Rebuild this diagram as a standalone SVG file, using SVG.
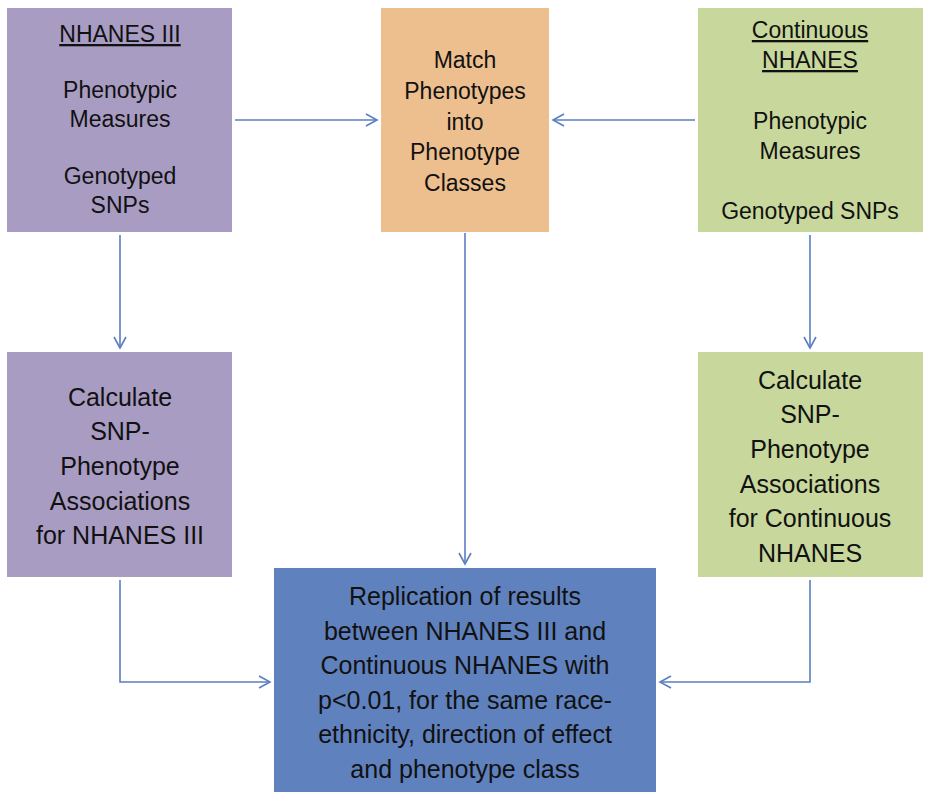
<svg xmlns="http://www.w3.org/2000/svg" width="931" height="800" viewBox="0 0 931 800">
<style>
text{font-family:"Liberation Sans",Arial,sans-serif;font-size:23px;fill:#111;text-anchor:middle}
.c{fill:none;stroke:#5b7fbf;stroke-width:1.6}
</style>
<defs><marker id="a" markerWidth="14" markerHeight="14" refX="12" refY="7" orient="auto" markerUnits="userSpaceOnUse"><path d="M1,1 L12,7 L1,13" fill="none" stroke="#5b7fbf" stroke-width="1.6"/></marker></defs>
<rect width="931" height="800" fill="#fff"/>
<g id="nh3"><rect x="7" y="8" width="225" height="224" fill="#a99cc3"/>
<text x="120" y="42" text-decoration="underline">NHANES III</text>
<text x="120" y="98">Phenotypic</text><text x="120" y="127">Measures</text>
<text x="120" y="184">Genotyped</text><text x="120" y="213">SNPs</text></g>
<g id="match"><rect x="381" y="8" width="168" height="224" fill="#edbf8e"/>
<text x="465" y="68">Match</text><text x="465" y="99">Phenotypes</text><text x="465" y="130">into</text><text x="465" y="160">Phenotype</text><text x="465" y="191">Classes</text></g>
<g id="cont"><rect x="698" y="8" width="225" height="224" fill="#c8d89c"/>
<text x="810" y="38" text-decoration="underline">Continuous</text><text x="810" y="68" text-decoration="underline">NHANES</text>
<text x="810" y="129">Phenotypic</text><text x="810" y="159">Measures</text>
<text x="810" y="219">Genotyped SNPs</text></g>
<g id="calc3"><rect x="7" y="352" width="225" height="225" fill="#a99cc3" style="font-size:25px"/>
<text x="120" y="406" style="font-size:25px">Calculate</text><text x="120" y="440" style="font-size:25px">SNP-</text><text x="120" y="475" style="font-size:25px">Phenotype</text><text x="120" y="510" style="font-size:25px">Associations</text><text x="120" y="544" style="font-size:25px">for NHANES III</text></g>
<g id="calcc"><rect x="698" y="352" width="225" height="225" fill="#c8d89c"/>
<text x="810" y="389" style="font-size:25px">Calculate</text><text x="810" y="423" style="font-size:25px">SNP-</text><text x="810" y="458" style="font-size:25px">Phenotype</text><text x="810" y="493" style="font-size:25px">Associations</text><text x="810" y="527" style="font-size:25px">for Continuous</text><text x="810" y="562" style="font-size:25px">NHANES</text></g>
<g id="rep"><rect x="274" y="568" width="382" height="224" fill="#5f81be"/>
<g style="font-size:25px"><text x="465" y="605" style="font-size:25px">Replication of results</text><text x="465" y="640" style="font-size:25px">between NHANES III and</text><text x="465" y="674" style="font-size:25px">Continuous NHANES with</text><text x="465" y="709" style="font-size:25px">p&lt;0.01, for the same race-</text><text x="465" y="743" style="font-size:25px">ethnicity, direction of effect</text><text x="465" y="778" style="font-size:25px">and phenotype class</text></g></g>
<g id="connectors">
<path class="c" d="M235,120 H377" marker-end="url(#a)"/>
<path class="c" d="M695,120 H553" marker-end="url(#a)"/>
<path class="c" d="M120,235 V348" marker-end="url(#a)"/>
<path class="c" d="M465,233 V564" marker-end="url(#a)"/>
<path class="c" d="M810,235 V348" marker-end="url(#a)"/>
<path class="c" d="M120,580 V682 H270" marker-end="url(#a)"/>
<path class="c" d="M810,580 V682 H660" marker-end="url(#a)"/>
</g>
</svg>
